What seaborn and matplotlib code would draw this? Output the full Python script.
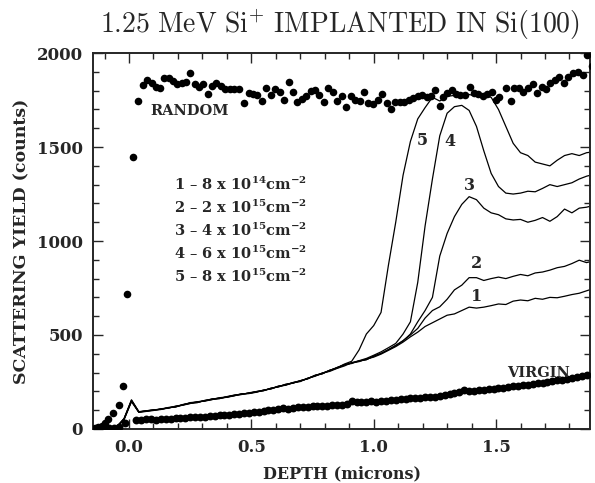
import numpy as np
import pandas as pd
import matplotlib
matplotlib.use("Agg")
import matplotlib.pyplot as plt
import seaborn as sns
from matplotlib.ticker import MultipleLocator, FixedLocator, FixedFormatter

# ---------------- data ----------------
random_depth = [-0.14, -0.125, -0.11, -0.098, -0.086, -0.065, -0.04, -0.025, -0.008, 0.016,
                0.038, 0.056, 0.075, 0.093, 0.109, 0.127, 0.143, 0.162, 0.179, 0.197,
                0.215, 0.233, 0.249, 0.270, 0.287, 0.304, 0.324, 0.338, 0.356, 0.375,
                0.392, 0.413, 0.431, 0.450, 0.471, 0.489, 0.508, 0.522, 0.542, 0.560,
                0.579, 0.597, 0.615, 0.634, 0.653, 0.669, 0.688, 0.706, 0.724, 0.743,
                0.760, 0.778, 0.797, 0.815, 0.833, 0.852, 0.870, 0.887, 0.906, 0.924,
                0.942, 0.961, 0.978, 0.999, 1.017, 1.034, 1.054, 1.071, 1.089, 1.108,
                1.125, 1.143, 1.162, 1.180, 1.197, 1.217, 1.233, 1.251, 1.269, 1.285,
                1.301, 1.319, 1.337, 1.353, 1.374, 1.394, 1.410, 1.428, 1.448, 1.465,
                1.483, 1.500, 1.514, 1.541, 1.561, 1.574, 1.592, 1.612, 1.632, 1.650,
                1.667, 1.687, 1.705, 1.721, 1.742, 1.759, 1.778, 1.796, 1.816, 1.834,
                1.855, 1.871, 1.891]
random_counts = [3, 8, 15, 32, 53, 85, 128, 230, 720, 1445,
                 1746, 1830, 1856, 1839, 1821, 1817, 1870, 1865, 1853, 1835,
                 1842, 1847, 1895, 1835, 1821, 1835, 1785, 1824, 1842, 1824,
                 1807, 1807, 1807, 1807, 1733, 1789, 1785, 1777, 1746, 1812,
                 1777, 1807, 1794, 1750, 1847, 1794, 1738, 1755, 1771, 1800,
                 1803, 1777, 1741, 1812, 1791, 1746, 1771, 1714, 1771, 1753,
                 1746, 1791, 1735, 1727, 1753, 1785, 1735, 1700, 1741, 1741,
                 1741, 1753, 1760, 1770, 1777, 1768, 1771, 1803, 1718, 1764,
                 1789, 1803, 1782, 1777, 1777, 1821, 1789, 1785, 1771, 1785,
                 1794, 1750, 1768, 1817, 1745, 1817, 1812, 1794, 1812, 1835,
                 1789, 1821, 1807, 1842, 1856, 1874, 1839, 1874, 1892, 1901,
                 1883, 1989, 1931]

virgin_depth = [-0.14, -0.12, -0.10, -0.08, -0.06, -0.04, -0.016,
                0.03, 0.05, 0.07, 0.09, 0.11, 0.13, 0.15, 0.17, 0.19, 0.21,
                0.23, 0.25, 0.27, 0.29, 0.31, 0.33, 0.35, 0.37, 0.39, 0.41,
                0.43, 0.45, 0.47, 0.49, 0.51, 0.53, 0.55, 0.57, 0.59, 0.61,
                0.63, 0.65, 0.67, 0.69, 0.71, 0.73, 0.75, 0.77, 0.79, 0.81,
                0.83, 0.85, 0.87, 0.89, 0.91, 0.93, 0.95, 0.97, 0.99, 1.01,
                1.03, 1.05, 1.07, 1.09, 1.11, 1.13, 1.15, 1.17, 1.19, 1.21,
                1.23, 1.25, 1.27, 1.29, 1.31, 1.33, 1.35, 1.37, 1.39, 1.41,
                1.43, 1.45, 1.47, 1.49, 1.51, 1.53, 1.55, 1.57, 1.59, 1.61,
                1.63, 1.65, 1.67, 1.69, 1.71, 1.73, 1.75, 1.77, 1.79, 1.81,
                1.83, 1.85, 1.87]
virgin_counts = [2, 3, 4, 5, 6, 8, 32,
                 50, 48, 51, 52, 50, 53, 55, 54, 57, 58,
                 60, 62, 61, 64, 66, 68, 70, 72, 73, 76,
                 79, 80, 83, 86, 88, 92, 96, 100, 103, 106,
                 110, 108, 112, 114, 116, 118, 120, 122, 121, 124,
                 126, 127, 128, 130, 148, 144, 142, 143, 146, 145,
                 147, 150, 152, 155, 157, 160, 162, 163, 166, 168,
                 172, 170, 176, 180, 185, 190, 196, 206, 204, 203,
                 205, 208, 210, 213, 216, 218, 222, 226, 228, 232,
                 236, 240, 243, 246, 250, 254, 258, 262, 266, 270,
                 274, 280, 288]

line_depth = [-0.14, -0.11, -0.08, -0.05, -0.02, 0.01, 0.04, 0.07, 0.10, 0.13,
              0.16, 0.19, 0.22, 0.25, 0.28, 0.31, 0.34, 0.37, 0.40, 0.43,
              0.46, 0.49, 0.52, 0.55, 0.58, 0.61, 0.64, 0.67, 0.70, 0.73,
              0.76, 0.79, 0.82, 0.85, 0.88, 0.91, 0.94, 0.97, 1.00, 1.03,
              1.06, 1.09, 1.12, 1.15, 1.18, 1.21, 1.24, 1.27, 1.30, 1.33,
              1.36, 1.39, 1.42, 1.45, 1.48, 1.51, 1.54, 1.57, 1.60, 1.63,
              1.66, 1.69, 1.72, 1.75, 1.78, 1.81, 1.84, 1.87, 1.90]

line1 = [0, 0, 3, 10, 50, 145, 88, 93, 98, 106,
         110, 120, 126, 135, 145, 148, 156, 165, 168, 176,
         187, 188, 195, 207, 212, 228, 232, 246, 252, 270,
         280, 298, 306, 322, 335, 352, 358, 372, 382, 398,
         418, 438, 462, 490, 515, 545, 565, 585, 605, 612,
         630, 648, 643, 648, 656, 665, 662, 680, 686, 682,
         695, 690, 700, 698, 706, 715, 722, 735, 748]
line2 = [0, 0, 2, 12, 55, 152, 92, 96, 102, 103,
         114, 116, 130, 137, 140, 152, 157, 161, 172, 180,
         183, 192, 199, 203, 217, 223, 238, 243, 257, 266,
         285, 293, 312, 323, 342, 348, 362, 368, 388, 402,
         422, 445, 470, 500, 535, 590, 630, 650, 690, 740,
         765, 805, 805, 790, 800, 808, 800, 812, 822, 815,
         830, 835, 845, 858, 865, 880, 898, 885, 895]
line3 = [0, 0, 3, 9, 52, 148, 90, 97, 99, 105,
         111, 119, 127, 140, 143, 149, 160, 163, 169, 179,
         186, 189, 198, 206, 214, 226, 236, 244, 256, 267,
         284, 296, 309, 327, 340, 351, 361, 369, 386, 401,
         421, 443, 468, 505, 570, 630, 700, 920, 1040, 1130,
         1195, 1236, 1220, 1175, 1150, 1140, 1118, 1112, 1115, 1100,
         1110, 1125, 1105, 1130, 1170, 1150, 1175, 1180, 1190]
line4 = [0, 0, 3, 11, 56, 155, 91, 94, 101, 104,
         113, 117, 129, 136, 141, 151, 159, 162, 171, 177,
         184, 191, 196, 204, 216, 224, 234, 246, 254, 269,
         282, 294, 311, 326, 341, 352, 363, 375, 392, 410,
         432, 455, 505, 570, 780, 1080, 1330, 1560, 1680, 1715,
         1722, 1695, 1610, 1480, 1360, 1290, 1255, 1250, 1255, 1265,
         1262, 1280, 1300, 1290, 1300, 1310, 1330, 1345, 1355]
line5 = [0, 0, 3, 10, 54, 150, 89, 96, 100, 107,
         112, 121, 128, 138, 144, 150, 157, 166, 170, 178,
         185, 190, 198, 205, 215, 226, 235, 247, 256, 268,
         285, 296, 312, 325, 345, 360, 420, 505, 550, 620,
         870, 1100, 1350, 1530, 1650, 1710, 1765, 1745, 1770, 1775,
         1765, 1780, 1770, 1775, 1765, 1700, 1610, 1520, 1470, 1455,
         1420, 1410, 1400, 1430, 1455, 1465, 1455, 1470, 1475]

curve_labels = ["1", "2", "3", "4", "5"]
curve_label_x = [1.421, 1.421, 1.391, 1.312, 1.20]
curve_label_y = [704, 881, 1298, 1528, 1537]

dose_lines = [r"1 – 8 x 10$^{\mathbf{14}}$cm$^{\mathbf{-2}}$",
              r"2 – 2 x 10$^{\mathbf{15}}$cm$^{\mathbf{-2}}$",
              r"3 – 4 x 10$^{\mathbf{15}}$cm$^{\mathbf{-2}}$",
              r"4 – 6 x 10$^{\mathbf{15}}$cm$^{\mathbf{-2}}$",
              r"5 – 8 x 10$^{\mathbf{15}}$cm$^{\mathbf{-2}}$"]
dose_y = [1300, 1178, 1055, 932, 810]

x_ticks = [0.0, 0.5, 1.0, 1.5]
x_ticklabels = ["0.0", "0.5", "1.0", "1.5"]
y_ticks = [0, 500, 1000, 1500, 2000]
y_ticklabels = ["0", "500", "1000", "1500", "2000"]

title = r"$\mathrm{1.25\ MeV\ Si^{+}\ IMPLANTED\ IN\ Si(100)}$"

# ---------------- plotting ----------------
sns.set_style("ticks")
plt.rcParams['font.family'] = ['DejaVu Serif']
plt.rcParams['font.weight'] = 'bold'

fig = plt.figure(figsize=(5.95, 4.83), dpi=100)
ax = fig.add_axes([0.156, 0.112, 0.836, 0.778])

for ln in [line1, line2, line3, line4, line5]:
    sns.lineplot(x=line_depth, y=ln, ax=ax, color="black", lw=0.9,
                 estimator=None, sort=False)

sns.scatterplot(x=virgin_depth, y=virgin_counts, ax=ax, color="black",
                s=32, linewidth=0, zorder=3)
sns.scatterplot(x=random_depth, y=random_counts, ax=ax, color="black",
                s=30, linewidth=0, zorder=3)

ax.set_xlim(-0.148, 1.885)
ax.set_ylim(0, 2000)

ax.xaxis.set_major_locator(FixedLocator(x_ticks))
ax.xaxis.set_major_formatter(FixedFormatter(x_ticklabels))
ax.xaxis.set_minor_locator(MultipleLocator(0.1))
ax.yaxis.set_major_locator(FixedLocator(y_ticks))
ax.yaxis.set_major_formatter(FixedFormatter(y_ticklabels))
ax.yaxis.set_minor_locator(MultipleLocator(100))

ax.tick_params(which="both", direction="in", top=True, right=True, width=1.0,
               labelsize=12, pad=7)
ax.tick_params(which="major", length=7)
ax.tick_params(which="minor", length=4)
for sp in ax.spines.values():
    sp.set_linewidth(1.4)

for lbl in ax.get_xticklabels() + ax.get_yticklabels():
    lbl.set_fontweight("bold")

ax.set_xlabel("DEPTH (microns)", fontsize=11.5, fontweight="bold", labelpad=7)
ax.set_ylabel("SCATTERING YIELD (counts)", fontsize=12.5, fontweight="bold", labelpad=5)

for t, x, y in zip(curve_labels, curve_label_x, curve_label_y):
    ax.text(x, y, t, fontsize=11.5, fontweight="bold", ha="center", va="center")

for t, y in zip(dose_lines, dose_y):
    ax.text(0.185, y, t, fontsize=10.5, fontweight="bold", ha="left", va="center",
            math_fontfamily="dejavuserif")

ax.text(0.249, 1690, "RANDOM", fontsize=10.5, fontweight="bold", ha="center", va="center")
ax.text(1.672, 298, "VIRGIN", fontsize=10.5, fontweight="bold", ha="center", va="center")

fig.text(0.571, 0.948, title, fontsize=20, ha="center", va="center",
         math_fontfamily="cm")

fig.savefig("out.png", dpi=100)
